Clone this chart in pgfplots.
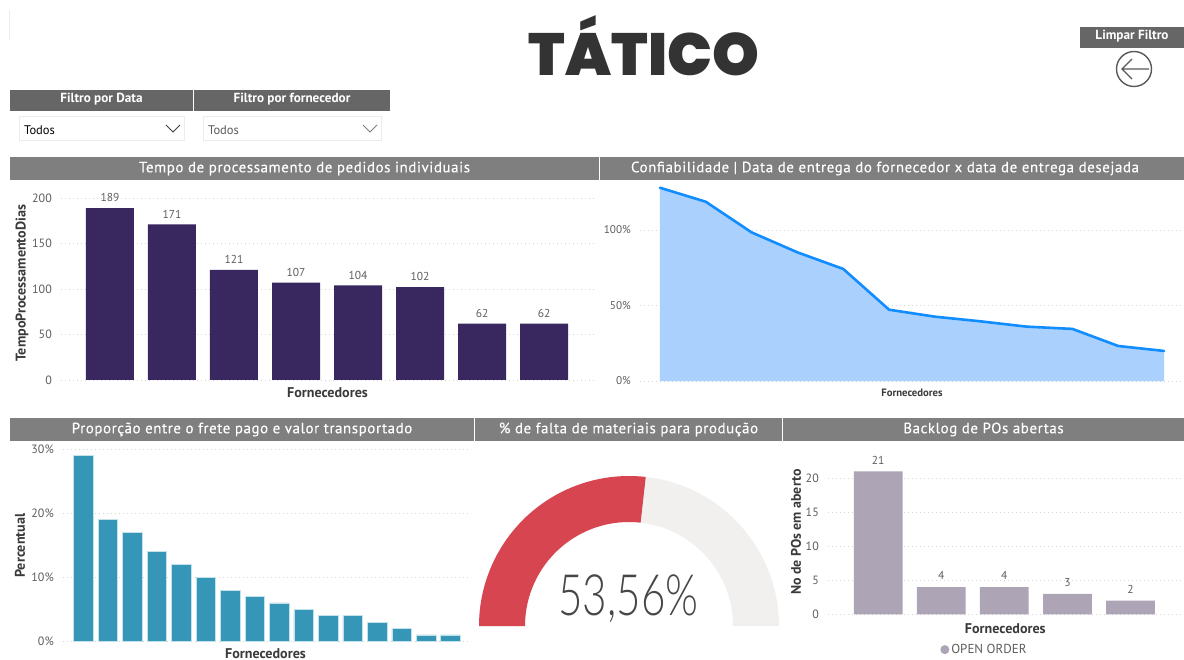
\documentclass[border=0pt]{standalone}
\usepackage{pgfplots}
\usepackage{pgfplotstable}
\usepackage{fontspec}
\pgfplotsset{compat=1.18}
\setmainfont{PT Sans}
\newfontfamily\heavy{Poppins Black}
\newfontfamily\spaced[LetterSpace=4,FakeBold=0.25]{PT Sans}
\newfontfamily\lightface{Lato Light}
\definecolor{banner}{HTML}{7F7F7F}
\definecolor{filterbar}{HTML}{666666}
\definecolor{ticktext}{HTML}{605E5C}
\definecolor{axistext}{HTML}{3A3A3A}
\definecolor{griddots}{HTML}{D4D4D4}
\definecolor{purplebar}{HTML}{38285F}
\definecolor{arealine}{HTML}{118DFF}
\definecolor{areafill}{HTML}{AAD0FD}
\definecolor{tealbar}{HTML}{3596B7}
\definecolor{tealedge}{HTML}{C4E2EC}
\definecolor{gaugered}{HTML}{D64550}
\definecolor{gaugerest}{HTML}{F1F0EF}
\definecolor{lilacbar}{HTML}{ADA4B6}

\pgfplotstableread{
x y
0 189
1 171
2 121
3 107
4 104
5 102
6 62
7 62
}\tempotable
\pgfplotstableread{
x y
0 128
1 118.7
2 98.4
3 85.2
4 74.2
5 47.2
6 42.6
7 39.5
8 36
9 34.5
10 23.2
11 19.9
}\conftable
\pgfplotstableread{
x y
0 29
1 19
2 17
3 14
4 12
5 10
6 8
7 7
8 6
9 5
10 4
11 4
12 3
13 2
14 1
15 1
}\fretetable
\pgfplotstableread{
x y
0 21
1 4
2 4
3 3
4 2
}\backlogtable

\pgfplotsset{
  panel/.style={
    scale only axis,
    axis x line*=bottom, axis y line*=left,
    x axis line style={draw=none}, y axis line style={draw=none},
    major tick length=0pt,
    xtick=\empty,
    ymin=0,
    ymajorgrids,
    grid style={griddots, line width=0.8pt, dash pattern=on 1pt off 3pt},
    /pgf/number format/assume math mode=true,
    tick label style={font=\fontsize{12}{12}\selectfont, text=ticktext},
    yticklabel style={inner sep=0pt, xshift=-9pt},
    label style={font=\fontsize{14.1}{14}\selectfont\bfseries, text=axistext},
  },
  barlabels/.style={
    nodes near coords,
    every node near coord/.append style={font=\fontsize{11.5}{12}\selectfont, text=ticktext, inner sep=0pt, yshift=6pt},
  },
}
% section header: left, right, top, bottom, text centre, text
\newcommand{\titlebar}[6]{%
  \fill[banner] (#1,#3) rectangle (#2,#4);
  \node[white, font=\spaced\fontsize{14.9}{15}\selectfont] at (#5,{(#3+#4)/2}) {#6};}
\newcommand{\filterbar}[5]{%
  \fill[filterbar] (#1,#3) rectangle (#2,#4);
  \node[white, font=\fontsize{13.2}{13}\selectfont\bfseries] at ({(#1+#2)/2},{(#3+#4)/2-1.5}) {#5};}
\newcommand{\dropdown}[4]{%
  \draw[gray!15, fill=white] (#1,116) rectangle (#2,140);
  \node[anchor=west, inner sep=0pt, text=#3, font=\fontsize{12.5}{13}\selectfont] at (#1+5,130) {Todos};
  \draw[#4, line width=0.9pt] (#2-18,125) -- (#2-11,132) -- (#2-4,125);}

\begin{document}
\begin{tikzpicture}[x=1pt,y=-1pt]
\path[use as bounding box] (0,0) rectangle (1184,660);
\fill[white] (0,0) rectangle (1184,660);
\draw[gray!15, line width=0.6pt] (9.5,10) -- (9.5,40);

% heading
\node[text=black!80, font=\heavy\fontsize{59.5}{60}\selectfont, inner sep=0pt, anchor=base] at (644,76) {TÁTICO};

% clear-filter button
\filterbar{1080}{1184}{27}{48}{Limpar Filtro}
\draw[black!65, line width=1.4pt] (1134,69) circle (17.5);
\draw[black!65, line width=1.2pt] (1149,69) -- (1122,69) (1132,59) -- (1122,69) -- (1132,79);

% slicers
\filterbar{10}{193}{90}{111}{Filtro por Data}
\filterbar{194}{390}{90}{111}{Filtro por fornecedor}
\dropdown{19}{184}{black}{black!75}
\dropdown{203}{381}{black!65}{black!50}

% section headers
\titlebar{10}{599}{157}{180}{304.5}{Tempo de processamento de pedidos individuais}
\titlebar{600}{1184}{157}{180}{885}{Confiabilidade | Data de entrega do fornecedor x data de entrega desejada}
\titlebar{10}{474}{418}{441}{242}{Proporção entre o frete pago e valor transportado}
\titlebar{475}{782}{418}{441}{628.5}{\% de falta de materiais para produção}
\titlebar{783}{1184}{418}{441}{983.5}{Backlog de POs abertas}

% processing time per supplier
\begin{axis}[panel, at={(61pt,-380pt)}, anchor=south west, width=533pt, height=196pt,
  xmin=-0.79, xmax=7.806, ymax=215.4, ytick={0,50,100,150,200},
  xlabel={Fornecedores}, ylabel={TempoProcessamentoDias},
  xlabel style={at={(axis description cs:0.5,0)}, anchor=center, yshift=-13pt},
  ylabel style={at={(axis description cs:-0.073,0.495)}, anchor=center},
  ybar, bar width=48pt, barlabels]
\addplot[fill=purplebar, draw=none] table[x=x,y=y] {\tempotable};
\end{axis}

% reliability area
\begin{axis}[panel, at={(640pt,-381pt)}, anchor=south west, width=544pt, height=196pt,
  xmin=-0.436, xmax=11.436, ymax=129.8, ytick={0,50,100},
  yticklabel={\pgfmathprintnumber{\tick}\%},
  tick label style={font=\fontsize{11.2}{12}\selectfont, text=ticktext},
  xlabel={Fornecedores},
  xlabel style={font=\fontsize{10.7}{11}\selectfont\bfseries, at={(axis description cs:0.5,0)}, anchor=center, yshift=-12pt}]
\addplot[fill=areafill, draw=none] table[x=x,y=y] {\conftable} \closedcycle;
\addplot[arealine, line width=2.6pt, line cap=round, line join=round, clip=false] table[x=x,y=y] {\conftable};
\end{axis}

% freight share
\begin{axis}[panel, at={(63pt,-641.3pt)}, anchor=south west, width=405pt, height=195.2pt,
  xmin=-0.838, xmax=15.71, ymax=30.5, ytick={0,10,20,30},
  yticklabel={\pgfmathprintnumber{\tick}\%},
  xlabel={Fornecedores}, ylabel={Percentual},
  xlabel style={at={(axis description cs:0.5,0)}, anchor=center, yshift=-12pt, inner sep=0pt},
  ylabel style={at={(axis description cs:-0.106,0.49)}, anchor=center},
  ybar, bar width=19.6pt]
\addplot[fill=tealbar, draw=tealedge, line width=0.7pt] table[x=x,y=y] {\fretetable};
\end{axis}

% gauge: share of the half circle taken by the value
\def\gaugevalue{53.56}
\pgfmathsetmacro{\gaugeangle}{180-1.8*\gaugevalue}
\begin{scope}[shift={(629,626)}, y=1pt]
\fill[gaugerest] (150,0) arc[start angle=0, end angle=180, radius=150] -- (-104,0) arc[start angle=180, end angle=0, radius=104] -- cycle;
\fill[gaugered] (180:150) arc[start angle=180, end angle=\gaugeangle, radius=150] -- (\gaugeangle:104) arc[start angle=\gaugeangle, end angle=180, radius=104] -- cycle;
\end{scope}
\node[text=black!72, font=\lightface\fontsize{57}{57}\selectfont, inner sep=0pt, xscale=0.74] at (628.5,598.5) {53,56\%};

% open purchase-order backlog
\begin{axis}[panel, at={(828pt,-614.3pt)}, anchor=south west, width=356pt, height=164.3pt,
  xmin=-0.796, xmax=4.849, ymax=24.16, ytick={0,5,10,15,20},
  xlabel={Fornecedores}, ylabel={No de POs em aberto},
  xlabel style={at={(axis description cs:0.498,0)}, anchor=center, yshift=-14pt},
  ylabel style={font=\fontsize{13.9}{14}\selectfont\bfseries, at={(axis description cs:-0.09,0.50)}, anchor=center},
  ybar, bar width=48.7pt, barlabels,
  every node near coord/.append style={yshift=1pt},
  legend style={at={(axis description cs:0.315,-0.215)}, anchor=west, draw=none, fill=none, inner sep=0pt,
    font=\fontsize{13}{13}\selectfont, text=ticktext, legend cell align=left},
  legend image code/.code={\fill[lilacbar] (0pt,0pt) circle (4.5pt);}]
\addplot[fill=lilacbar, draw=none] table[x=x,y=y] {\backlogtable};
\addlegendentry{OPEN ORDER}
\end{axis}
\end{tikzpicture}
\end{document}
